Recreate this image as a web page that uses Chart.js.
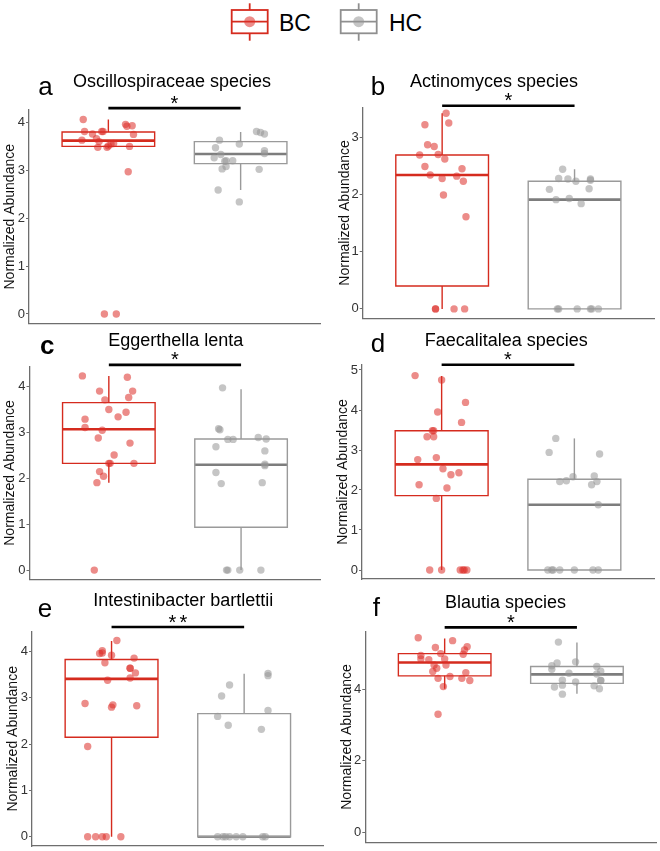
<!DOCTYPE html>
<html>
<head>
<meta charset="utf-8">
<script src="https://cdn.jsdelivr.net/npm/chart.js@4/dist/chart.umd.min.js"></script>
<style>
html,body{margin:0;padding:0;background:#fff;overflow:hidden;width:660px;height:851px;}
#wrap{position:relative;width:660px;height:851px;overflow:hidden;}
#wrap canvas{position:absolute;}
#legend{position:absolute;left:0;top:0;}
</style>
</head>
<body>
<div id="wrap">
<svg id="legend" width="660" height="50" xmlns="http://www.w3.org/2000/svg">
  <g stroke="#d52b1e" stroke-width="1.8" fill="none">
    <line x1="249.7" y1="3.3" x2="249.7" y2="10"/>
    <line x1="249.7" y1="33.3" x2="249.7" y2="40.7"/>
    <rect x="231.7" y="10" width="36" height="23.3" fill="#fff"/>
    <line x1="231.7" y1="21.7" x2="267.7" y2="21.7"/>
  </g>
  <circle cx="249.7" cy="21.7" r="5.5" fill="rgba(221,45,40,0.55)"/>
  <text x="279" y="30.7" font-size="23" font-family="'Liberation Sans', Arial, sans-serif" fill="#000">BC</text>
  <g stroke="#8f8f8f" stroke-width="1.8" fill="none">
    <line x1="358.7" y1="3.3" x2="358.7" y2="10"/>
    <line x1="358.7" y1="33.3" x2="358.7" y2="40.7"/>
    <rect x="340.7" y="10" width="36" height="23.3" fill="#fff"/>
    <line x1="340.7" y1="21.7" x2="376.7" y2="21.7"/>
  </g>
  <circle cx="358.7" cy="21.7" r="5.5" fill="rgba(150,150,150,0.55)"/>
  <text x="389" y="30.7" font-size="23" font-family="'Liberation Sans', Arial, sans-serif" fill="#000">HC</text>
</svg>
</div>
<script>
// ---------------- DATA ----------------
const groups = ['BC', 'HC'];
const titles = ['Oscillospiraceae species', 'Actinomyces species', 'Eggerthella lenta',
                'Faecalitalea species', 'Intestinibacter bartlettii', 'Blautia species'];
const letters = ['a', 'b', 'c', 'd', 'e', 'f'];
const signif = ['*', '*', '*', '*', '**', '*'];
const yTickValues = [[0,1,2,3,4],[0,1,2,3],[0,1,2,3,4],[0,1,2,3,4,5],[0,1,2,3,4],[0,2,4]];
const yAxisLabel = 'Normalized Abundance';
// significance bar height (data units)
const sigY = [4.30, 3.55, 4.46, 5.13, 4.53, 5.72];

// box stats: [lower whisker, Q1, median, Q3, upper whisker]
const boxBC = [
  [3.47, 3.50, 3.62, 3.80, 4.06],
  [0.00, 0.40, 2.34, 2.69, 3.42],
  [1.90, 2.32, 3.06, 3.64, 4.22],
  [0.00, 1.86, 2.64, 3.48, 4.85],
  [0.00, 2.15, 3.41, 3.83, 4.23],
  [4.01, 4.37, 4.74, 4.99, 5.41]
];
const boxHC = [
  [2.59, 3.14, 3.34, 3.60, 3.80],
  [0.00, 0.00, 1.91, 2.23, 2.44],
  [0.00, 0.93, 2.29, 2.85, 3.93],
  [0.00, 0.00, 1.63, 2.27, 3.29],
  [0.00, 0.00, 0.00, 2.66, 3.52],
  [3.87, 4.16, 4.41, 4.63, 5.30]
];

// jittered samples: [x (group 1 = BC, 2 = HC, plus jitter), abundance]
const oscillospiraceaeBC = [[0.81,4.06],[0.82,3.81],[0.80,3.63],[0.88,3.76],[0.95,3.81],[0.96,3.81],[0.91,3.66],[0.93,3.60],[0.92,3.48],[0.99,3.48],[1.02,3.55],[1.04,3.56],[1.00,3.51],[1.13,3.96],[1.14,3.92],[1.18,3.93],[1.19,3.75],[1.16,3.50],[1.15,2.97],[0.97,0],[1.06,0]];
const oscillospiraceaeHC = [[1.84,3.63],[1.81,3.47],[1.85,3.33],[1.80,3.26],[1.89,3.20],[1.88,3.19],[1.94,3.20],[1.86,3.03],[1.89,3.08],[1.99,3.55],[2.12,3.81],[2.15,3.79],[2.18,3.76],[2.18,3.41],[2.18,3.35],[2.14,3.02],[1.83,2.59],[1.99,2.34]];
const actinomycesBC = [[1.03,3.42],[1.05,3.25],[0.87,3.22],[0.89,2.87],[0.94,2.84],[0.83,2.69],[0.97,2.70],[1.02,2.62],[0.87,2.49],[0.91,2.34],[1.00,2.28],[1.11,2.32],[1.15,2.45],[1.16,2.23],[1.01,1.99],[1.18,1.61],[0.95,0],[0.95,0],[1.09,0],[1.17,0]];
const actinomycesHC = [[1.91,2.44],[1.88,2.28],[1.95,2.27],[2.01,2.23],[2.12,2.27],[2.12,2.25],[1.81,2.09],[2.11,2.10],[1.86,1.91],[1.96,1.93],[2.05,1.84],[1.87,0],[1.88,0],[2.02,0],[2.12,0],[2.13,0],[2.18,0]];
const eggerthellaBC = [[0.80,4.22],[1.14,4.19],[0.93,3.89],[1.18,3.89],[0.97,3.70],[1.15,3.75],[1.00,3.49],[1.13,3.43],[1.07,3.33],[0.82,3.28],[0.82,3.10],[0.95,3.04],[0.92,2.87],[1.16,2.76],[1.04,2.50],[1.00,2.32],[1.01,2.32],[1.19,2.32],[0.93,2.14],[0.96,2.04],[0.91,1.90],[0.89,0]];
const eggerthellaHC = [[1.86,3.96],[1.83,3.07],[1.84,3.05],[1.90,2.84],[1.94,2.84],[2.13,2.88],[2.19,2.85],[1.81,2.68],[2.18,2.59],[2.18,2.30],[2.18,2.27],[1.81,2.12],[1.85,1.88],[2.16,1.90],[1.89,0],[1.90,0],[1.99,0],[2.15,0]];
const faecalitaleaBC = [[0.80,4.86],[1.00,4.75],[1.18,4.19],[0.97,3.95],[1.15,3.69],[0.93,3.48],[0.94,3.48],[0.89,3.33],[0.94,3.33],[0.96,2.81],[0.82,2.76],[1.01,2.53],[1.07,2.38],[1.13,2.43],[0.83,2.13],[1.04,2.05],[0.96,1.79],[0.91,0],[1.00,0],[1.14,0],[1.16,0],[1.17,0],[1.19,0]];
const faecalitaleaHC = [[1.86,3.29],[1.81,2.94],[2.19,2.90],[1.99,2.33],[2.15,2.35],[1.89,2.21],[1.94,2.23],[2.17,2.21],[2.13,2.13],[2.18,1.63],[1.80,0],[1.83,0],[1.84,0],[1.89,0],[2.00,0],[2.14,0],[2.18,0]];
const intestinibacterBC = [[1.04,4.24],[0.93,4.02],[0.91,3.96],[0.93,3.97],[1.00,3.92],[1.17,3.86],[0.95,3.76],[1.14,3.64],[1.14,3.64],[1.18,3.54],[1.14,3.43],[0.97,3.38],[0.80,2.88],[1.01,2.85],[1.00,2.80],[1.19,2.83],[0.82,1.95],[0.82,0],[0.88,0],[0.93,0],[0.96,0],[1.07,0]];
const intestinibacterHC = [[2.18,3.53],[2.18,3.48],[1.89,3.28],[1.83,3.04],[1.80,2.60],[2.18,2.73],[1.88,2.41],[2.13,2.32],[1.80,0],[1.84,0],[1.86,0],[1.89,0],[1.94,0],[1.99,0],[2.14,0],[2.16,0]];
const blautiaBC = [[0.80,5.43],[1.06,5.35],[0.93,5.16],[1.17,5.18],[1.15,5.09],[0.97,4.99],[1.14,4.97],[0.82,4.94],[0.82,4.84],[0.88,4.82],[1.00,4.84],[0.92,4.67],[1.01,4.67],[0.94,4.58],[0.91,4.49],[1.16,4.46],[1.04,4.35],[0.95,4.30],[1.13,4.30],[1.19,4.24],[0.99,4.07],[0.95,3.30]];
const blautiaHC = [[1.86,5.31],[1.85,4.73],[1.81,4.65],[1.81,4.55],[1.99,4.76],[1.94,4.44],[2.15,4.63],[2.18,4.50],[2.15,4.42],[1.89,4.25],[1.99,4.20],[2.18,4.24],[2.18,4.24],[1.83,4.06],[1.89,4.11],[2.13,4.09],[2.17,4.01],[1.89,3.86]];

const pointsBC = [oscillospiraceaeBC, actinomycesBC, eggerthellaBC, faecalitaleaBC, intestinibacterBC, blautiaBC];
const pointsHC = [oscillospiraceaeHC, actinomycesHC, eggerthellaHC, faecalitaleaHC, intestinibacterHC, blautiaHC];

// ---------------- LAYOUT / STYLE ----------------
const FONT = "'Liberation Sans', Arial, Helvetica, sans-serif";
const BC_LINE = '#d52b1e', BC_PT = 'rgba(221,45,40,0.55)';
const HC_LINE = '#9a9a9a', HC_MED = '#7d7d7d', HC_PT = 'rgba(150,150,150,0.55)';
const AXIS = '#6e6e6e';
const BOX_HALF = 0.35;
// canvas [left, top, w, h]; chart area L/R/T/B in page px; y range; text anchors
const layout = [
  {cv:[0,50,330,285],   L:29,    R:320,   T:110,   B:323.5, yMin:-0.2,   yMax:4.26,  tX:172,   tY:86.7,  lX:38.3,  lY:95,    yPad:1.6},
  {cv:[330,50,330,285], L:362.7, R:654,   T:107.3, B:318.5, yMin:-0.168, yMax:3.524, tX:494,   tY:86.7,  lX:370.7, lY:95,    yPad:6.6},
  {cv:[0,320,330,275],  L:29.5,  R:320.4, T:366.7, B:579.3, yMin:-0.2,   yMax:4.42,  tX:175.8, tY:345.7, lX:40,    lY:354,   yPad:1.6, bold:true},
  {cv:[330,320,330,275],L:362,   R:654,   T:365,   B:579,   yMin:-0.225, yMax:5.125, tX:506.3, tY:345.7, lX:370.7, lY:351.7, yPad:4.6},
  {cv:[0,585,330,275],  L:32,    R:323.7, T:631.7, B:846,   yMin:-0.2,   yMax:4.43,  tX:183.3, tY:605.7, lX:37.7,  lY:616.7, yPad:4.9},
  {cv:[330,585,330,275],L:365.3, R:656.4, T:631.7, B:842.3, yMin:-0.27,  yMax:5.6,   tX:505.5, tY:608.3, lX:372.7, lY:616,   yPad:8.3}
];

function makeAnnot(i) {
  return {
    id: 'annot' + i,
    afterDraw(chart) {
      const P = layout[i], cl = P.cv[0], ct = P.cv[1];
      const ctx = chart.ctx, xs = chart.scales.x, ys = chart.scales.y;
      ctx.save();
      ctx.fillStyle = '#000';
      ctx.textBaseline = 'alphabetic';
      ctx.font = '18px ' + FONT;
      ctx.textAlign = 'center';
      ctx.fillText(titles[i], P.tX - cl, P.tY - ct);
      ctx.font = (P.bold ? 'bold ' : '') + '26px ' + FONT;
      ctx.textAlign = 'left';
      ctx.fillText(letters[i], P.lX - cl, P.lY - ct);
      const x1 = xs.getPixelForValue(1), x2 = xs.getPixelForValue(2);
      const y = ys.getPixelForValue(sigY[i]);
      ctx.strokeStyle = '#000';
      ctx.lineWidth = 2.6;
      ctx.beginPath(); ctx.moveTo(x1, y); ctx.lineTo(x2, y); ctx.stroke();
      ctx.font = '20px ' + FONT;
      ctx.textAlign = 'center';
      const n = signif[i].length, xm = (x1 + x2) / 2;
      for (let k = 0; k < n; k++) {
        ctx.fillText('*', xm + (k - (n - 1) / 2) * 11, y + 1.5);
      }
      ctx.restore();
    }
  };
}

function lineSet(pts, color, w, cap) {
  return {
    type: 'scatter', showLine: true,
    data: pts.map(p => ({x: p[0], y: p[1]})),
    borderColor: color, borderWidth: w, pointRadius: 0, pointHoverRadius: 0,
    fill: false, tension: 0, order: 1,
    borderJoinStyle: 'miter', borderCapStyle: cap || 'butt'
  };
}

const wrap = document.getElementById('wrap');
for (let i = 0; i < 6; i++) {
  const P = layout[i];
  const [cl, ct, cw, ch] = P.cv;
  const canvas = document.createElement('canvas');
  canvas.width = cw; canvas.height = ch;
  canvas.style.left = cl + 'px'; canvas.style.top = ct + 'px';
  canvas.style.width = cw + 'px'; canvas.style.height = ch + 'px';
  wrap.appendChild(canvas);

  const g = [
    {pts: pointsBC[i], box: boxBC[i], c: 1, line: BC_LINE, med: BC_LINE, pt: BC_PT},
    {pts: pointsHC[i], box: boxHC[i], c: 2, line: HC_LINE, med: HC_MED, pt: HC_PT}
  ];
  const datasets = [];
  g.forEach(s => {
    datasets.push({
      type: 'scatter', label: groups[s.c - 1],
      data: s.pts.map(p => ({x: p[0], y: p[1]})),
      pointRadius: 3.7, pointHoverRadius: 3.7,
      backgroundColor: s.pt, borderWidth: 0, order: 0
    });
  });
  g.forEach(s => {
    const [lo, q1, med, q3, hi] = s.box, c = s.c, h = BOX_HALF;
    datasets.push(lineSet([[c, q3], [c, hi]], s.line, 1.4));
    datasets.push(lineSet([[c, lo], [c, q1]], s.line, 1.4));
    datasets.push(lineSet([[c - h, q1], [c + h, q1], [c + h, q3], [c - h, q3], [c - h, q1]], s.line, 1.4, 'square'));
    datasets.push(lineSet([[c - h, med], [c + h, med]], s.med, 2.6));
  });

  new Chart(canvas, {
    type: 'scatter',
    data: {datasets},
    options: {
      responsive: false, animation: false, devicePixelRatio: 1, events: [],
      layout: {padding: {left: 0, top: P.T - ct, right: cl + cw - P.R, bottom: ct + ch - P.B - 10}},
      plugins: {legend: {display: false}, tooltip: {enabled: false}, title: {display: false}},
      scales: {
        x: {
          type: 'linear', min: 0.4, max: 2.6,
          afterFit(s) { s.height = 10; },
          ticks: {display: false},
          grid: {display: false},
          border: {display: true, color: AXIS, width: 1.3}
        },
        y: {
          type: 'linear', position: 'left', min: P.yMin, max: P.yMax,
          afterFit(s) { s.width = P.L - cl; },
          afterBuildTicks(s) { s.ticks = yTickValues[i].map(v => ({value: v})); },
          grid: {display: true, drawOnChartArea: false, drawTicks: true, tickLength: 3, color: AXIS, tickColor: AXIS, lineWidth: 1},
          border: {display: true, color: AXIS, width: 1.3},
          ticks: {font: {size: 13, family: FONT}, color: '#333', padding: 1},
          title: {display: true, text: yAxisLabel, font: {size: 14, family: FONT}, color: '#111', padding: {top: P.yPad, bottom: 0}}
        }
      }
    },
    plugins: [makeAnnot(i)]
  });
}
</script>
</body>
</html>
